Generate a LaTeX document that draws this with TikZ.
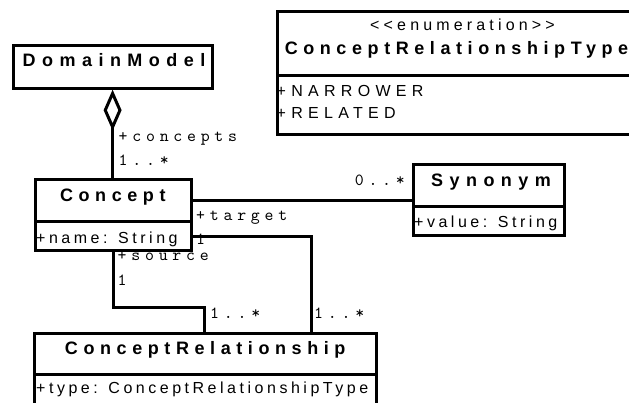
\documentclass[tikz,border=0pt]{standalone}
\usepackage{fontspec}
\setmainfont{Liberation Sans}
\usetikzlibrary{arrows.meta}
% letter-spaced faces used in the class diagram
\newfontfamily\ttlfont{Liberation Sans}[LetterSpace=31]
\newfontfamily\ttlwfont{Liberation Sans}[LetterSpace=36]
\newfontfamily\attrfont{Liberation Sans}[LetterSpace=22]
\newfontfamily\litfont{Liberation Sans}[LetterSpace=33]
\newfontfamily\stereofont{Liberation Sans}[LetterSpace=26]
\newfontfamily\lblfont{lmmono10-regular}[Extension=.otf, LetterSpace=28]
\begin{document}
\begin{tikzpicture}[x=1pt,y=-1pt,
  box/.style={draw, line width=3pt, inner sep=0pt, anchor=north west},
  ttl/.style={anchor=base, inner sep=0pt, font=\ttlfont\bfseries\fontsize{18}{20}\selectfont},
  ttlw/.style={anchor=base, inner sep=0pt, font=\ttlwfont\bfseries\fontsize{18}{20}\selectfont},
  attr/.style={anchor=base west, inner sep=0pt, font=\attrfont\fontsize{16}{18}\selectfont},
  lit/.style={anchor=base west, inner sep=0pt, font=\litfont\fontsize{16}{18}\selectfont},
  stereo/.style={anchor=base, inner sep=0pt, font=\stereofont\fontsize{16}{18}\selectfont},
  lbl/.style={anchor=base west, inner sep=0pt, font=\lblfont\fontsize{17}{18}\selectfont},
  conn/.style={line width=3pt}]
\useasboundingbox (0,0) rectangle (629,403);

% DomainModel
\node[box, minimum width=198.8pt, minimum height=42.4pt] (dm) at (11.7,44.3) {};
\node[ttlw] (dmT) at (114,66.8) {DomainModel};

% enumeration ConceptRelationshipType
\node[box, minimum width=359.5pt, minimum height=64.3pt] (enT) at (275.5,10) {};
\node[box, minimum width=359.5pt, minimum height=58.7pt] (enB) at (275.5,74.3) {};
\node[stereo] (enS) at (462.5,30.3) {<<enumeration>>};
\node[ttl] (enN) at (456.5,54.8) {ConceptRelationshipType};
\node[lit] (enL1) at (276.5,96.5) {+NARROWER};
\node[lit] (enL2) at (276.5,118.2) {+RELATED};

% Concept
\node[box, minimum width=156pt, minimum height=42.6pt] (conT) at (34,177.7) {};
\node[box, minimum width=156pt, minimum height=28.7pt] (conA) at (34,220.3) {};
\node[ttl] (conN) at (112.8,201.8) {Concept};
\node[attr] (conV) at (36,243.3) {+name: String};

% Synonym
\node[box, minimum width=151.6pt, minimum height=42.8pt] (synT) at (411.7,162.7) {};
\node[box, minimum width=151.6pt, minimum height=28.2pt] (synA) at (411.7,205.5) {};
\node[ttlw] (synN) at (491,186.5) {Synonym};
\node[attr] (synV) at (414,227.8) {+value: String};

% ConceptRelationship
\node[box, minimum width=342pt, minimum height=41pt] (crT) at (33,331.7) {};
\node[box, minimum width=342pt, minimum height=40pt] (crA) at (33,372.7) {};
\node[ttl] (crN) at (205.2,354.8) {ConceptRelationship};
\node[attr] (crV) at (36,393.8) {+type: ConceptRelationshipType};

% attachment points on ConceptRelationship
\coordinate (crSrc) at (204,331.7);
\coordinate (crTgt) at (311.7,331.7);
\coordinate (srcBend) at (204,307.7);

% aggregation DomainModel <>-- Concept
\draw[conn, {Diamond[open, length=41pt, width=18pt]}-] (dm.south) -- (dm.south |- conT.north);
\node[lbl] (aggRole) at (118.5,141.5) {+concepts};
\node[lbl] (aggMul) at (118.5,165.5) {1..*};

% Concept -- Synonym
\draw[conn] (conT.east) -- (conT.east -| synT.west);
\node[lbl, anchor=base east] (synMul) at (405,185.5) {0..*};

% target association
\draw[conn] (conA.east) -| (crTgt);
\node[lbl] (tgtRole) at (196,221) {+target};
\node[lbl] (tgtMul) at (196,245) {1};
\node[lbl] (tgtEnd) at (314,319) {1..*};

% source association
\draw[conn] (conA.south) |- (srcBend) -- (crSrc);
\node[lbl] (srcRole) at (117.5,261) {+source};
\node[lbl] (srcMul) at (117.5,286) {1};
\node[lbl] (srcEnd) at (210,319) {1..*};
\end{tikzpicture}
\end{document}
